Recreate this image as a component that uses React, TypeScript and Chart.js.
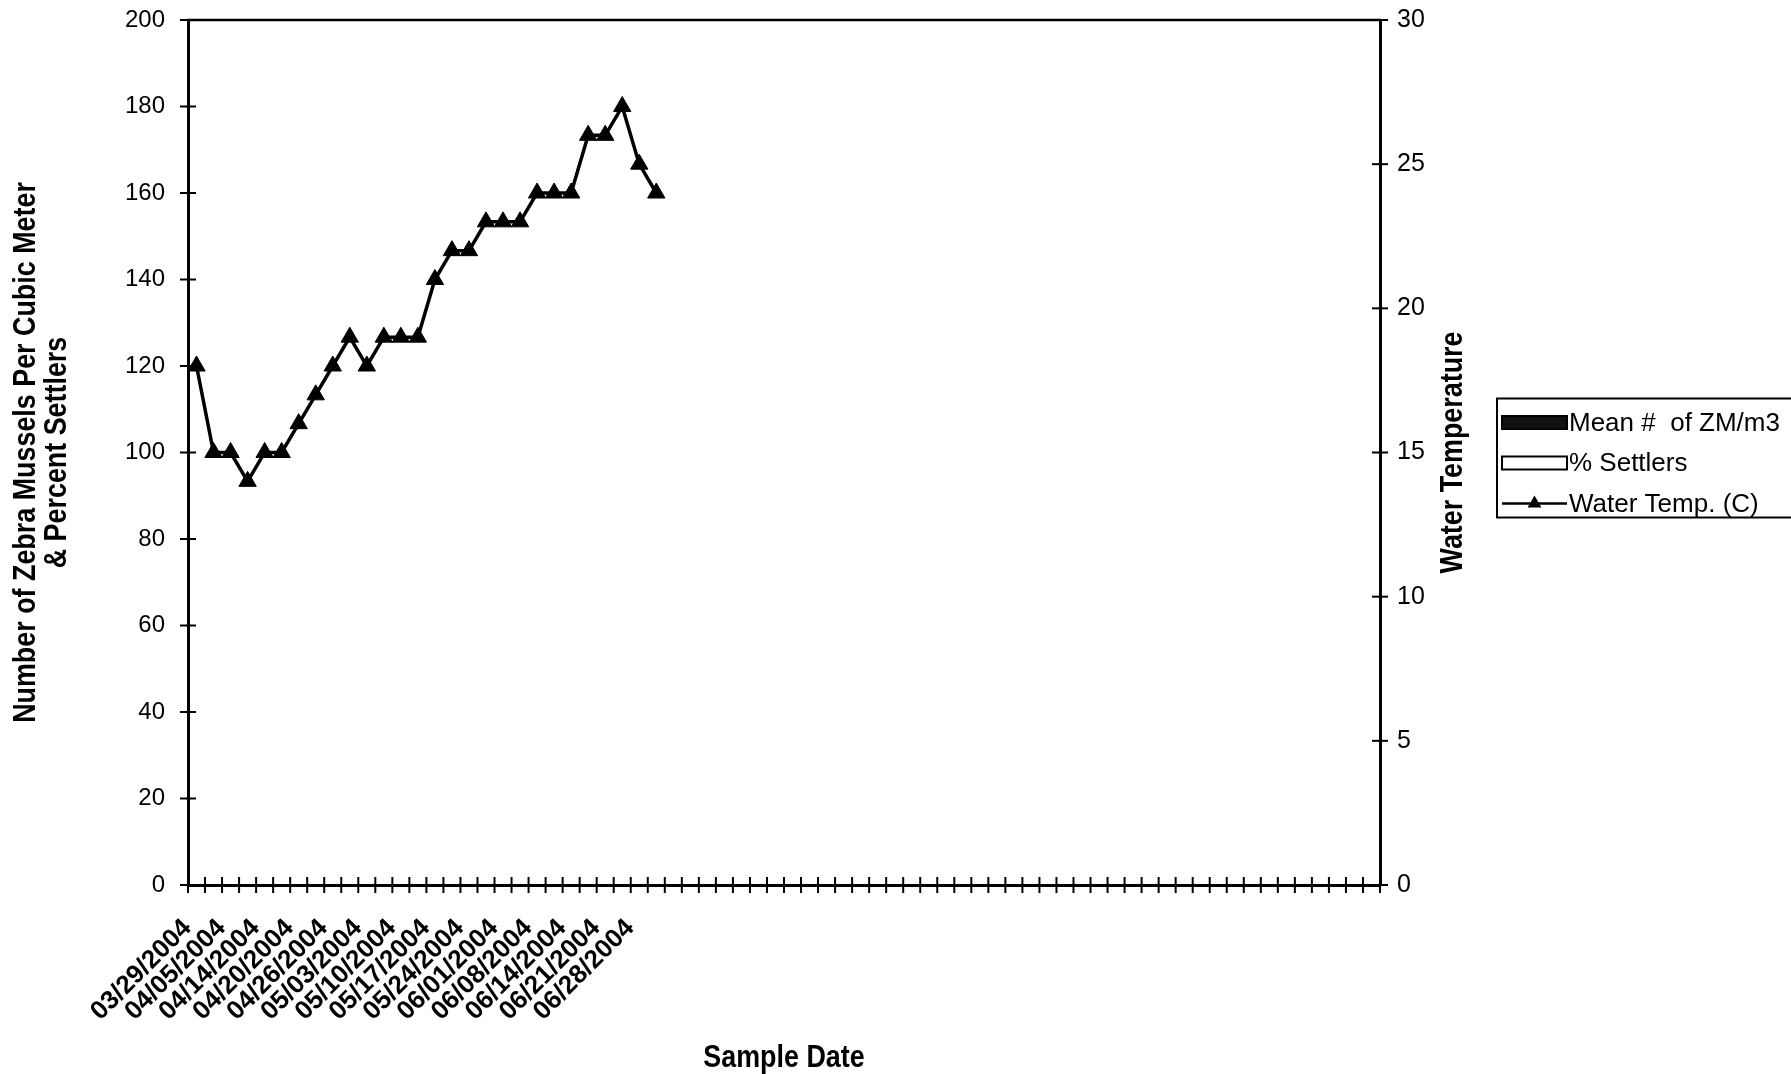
import React, { useEffect, useRef } from 'react';
import { Chart, registerables } from 'chart.js';

Chart.register(...registerables);

// Sample dates (every other one is labelled on the axis; the unlabelled ones are estimates)
const sampleDates: string[] = [
  '03/29/2004', '04/01/2004', '04/05/2004', '04/08/2004', '04/14/2004', '04/17/2004',
  '04/20/2004', '04/23/2004', '04/26/2004', '04/29/2004', '05/03/2004', '05/06/2004',
  '05/10/2004', '05/13/2004', '05/17/2004', '05/20/2004', '05/24/2004', '05/27/2004',
  '06/01/2004', '06/04/2004', '06/08/2004', '06/11/2004', '06/14/2004', '06/17/2004',
  '06/21/2004', '06/24/2004', '06/28/2004', '07/01/2004',
];
// Empty category slots that follow on the axis
const blankCategories: string[] = [
  '', '', '', '', '', '', '', '', '', '', '', '', '', '', '', '', '', '', '', '', '',
  '', '', '', '', '', '', '', '', '', '', '', '', '', '', '', '', '', '', '', '', '',
];
const categories: string[] = [...sampleDates, ...blankCategories];

// Water temperature (C), right axis
const waterTemp: number[] = [
  18, 15, 15, 14, 15, 15, 16, 17, 18, 19, 18, 19, 19, 19,
  21, 22, 22, 23, 23, 23, 24, 24, 24, 26, 26, 27, 25, 24,
];
// No bars are visible in the chart
const meanZM: (number | null)[] = [];
const pctSettlers: (number | null)[] = [];

const leftMin = 0, leftMax = 200, leftStep = 20;
const rightMin = 0, rightMax = 30, rightStep = 5;

const leftTitle: string[] = ['Number of Zebra Mussels Per Cubic Meter', '& Percent Settlers'];
const rightTitle = 'Water Temperature';
const bottomTitle = 'Sample Date';

const SANS = "'Liberation Sans', Arial, Helvetica, sans-serif";
const TITLE_FONT = `bold 32px ${SANS}`;
const CONDENSE = 0.84;

const decorPlugin = {
  id: 'decor',
  afterDraw(chart: any) {
    const { ctx, chartArea, scales } = chart;
    const { left, right, top, bottom } = chartArea;
    const midY = (top + bottom) / 2;
    const midX = (left + right) / 2;
    const L = 8;
    ctx.save();
    ctx.strokeStyle = '#000';
    const seg = (x1: number, y1: number, x2: number, y2: number) => {
      ctx.beginPath();
      ctx.moveTo(x1, y1);
      ctx.lineTo(x2, y2);
      ctx.stroke();
    };
    // top border of plot area
    ctx.lineWidth = 2.5;
    seg(left - 1, top, right + 1, top);
    ctx.lineWidth = 2;
    // crossing tick marks
    scales.y.ticks.forEach((_t: any, i: number) => {
      const py = scales.y.getPixelForTick(i);
      seg(left - L, py, left + L, py);
    });
    scales.y1.ticks.forEach((_t: any, i: number) => {
      const py = scales.y1.getPixelForTick(i);
      seg(right - L, py, right + L, py);
    });
    const n = chart.data.labels.length;
    const step = scales.x.getPixelForValue(1) - scales.x.getPixelForValue(0);
    for (let i = 0; i <= n; i++) {
      const px = i < n ? scales.x.getPixelForValue(i) - step / 2 : scales.x.getPixelForValue(n - 1) + step / 2;
      seg(px, bottom - L, px, bottom + L);
    }

    // axis titles (condensed bold)
    ctx.fillStyle = '#000';
    ctx.font = TITLE_FONT;
    ctx.textAlign = 'center';
    ctx.textBaseline = 'middle';
    const drawText = (text: string, x: number, y: number, rot: number) => {
      ctx.save();
      ctx.translate(x, y);
      ctx.rotate(rot);
      ctx.scale(CONDENSE, 1);
      ctx.fillText(text, 0, 0);
      ctx.restore();
    };
    leftTitle.forEach((t, i) => drawText(t, scales.y.left + 26 + i * 31, midY, -Math.PI / 2));
    drawText(rightTitle, scales.y1.left + 73, midY, -Math.PI / 2);
    drawText(bottomTitle, midX, scales.x.bottom - 16, 0);

    // legend box
    const lx = scales.y1.right;
    const lh = 119;
    const ly = midY - 54;
    ctx.lineWidth = 2;
    ctx.strokeStyle = '#000';
    ctx.strokeRect(lx, ly, chart.width - lx + 20, lh);
    const rows = [ly + 24, ly + 64.5, ly + 105];
    const sx = lx + 5, sw = 65, sh = 13;
    ctx.font = `26px ${SANS}`;
    ctx.textAlign = 'left';
    ctx.textBaseline = 'middle';
    chart.data.datasets.forEach((ds: any, i: number) => {
      const cy = rows[i];
      if (ds.type === 'line') {
        ctx.strokeStyle = ds.borderColor;
        ctx.lineWidth = 2.5;
        seg(sx, cy, sx + sw, cy);
        const r = 8;
        const cx = sx + sw / 2;
        ctx.fillStyle = ds.pointBackgroundColor;
        ctx.beginPath();
        ctx.moveTo(cx, cy - r);
        ctx.lineTo(cx + r * 0.866, cy + r / 2);
        ctx.lineTo(cx - r * 0.866, cy + r / 2);
        ctx.closePath();
        ctx.fill();
      } else {
        ctx.fillStyle = ds.backgroundColor;
        ctx.fillRect(sx, cy - sh / 2, sw, sh);
        ctx.strokeStyle = ds.borderColor;
        ctx.lineWidth = 2;
        ctx.strokeRect(sx, cy - sh / 2, sw, sh);
      }
      ctx.fillStyle = '#000';
      ctx.fillText(ds.label, sx + sw + 2, cy + 1);
    });
    ctx.restore();
  },
};

export default function App() {
  const canvasRef = useRef<HTMLCanvasElement | null>(null);

  useEffect(() => {
    document.body.style.margin = '0';
    const canvas = canvasRef.current;
    if (!canvas) return;
    const chart = new Chart(canvas, {
      type: 'bar',
      data: {
        labels: categories,
        datasets: [
          {
            type: 'bar',
            label: 'Mean #  of ZM/m3',
            data: meanZM,
            backgroundColor: '#111',
            borderColor: '#000',
            borderWidth: 1,
            yAxisID: 'y',
          },
          {
            type: 'bar',
            label: '% Settlers',
            data: pctSettlers,
            backgroundColor: '#fff',
            borderColor: '#000',
            borderWidth: 1,
            yAxisID: 'y',
          },
          {
            type: 'line',
            label: 'Water Temp. (C)',
            data: waterTemp,
            borderColor: '#000',
            borderWidth: 3.5,
            backgroundColor: '#000',
            pointStyle: 'triangle',
            pointRadius: 10,
            pointBackgroundColor: '#000',
            pointBorderColor: '#000',
            pointBorderWidth: 1,
            tension: 0,
            yAxisID: 'y1',
          },
        ],
      } as any,
      options: {
        animation: false,
        responsive: true,
        maintainAspectRatio: false,
        devicePixelRatio: 1,
        layout: { padding: { top: 20, right: 294, bottom: 0, left: 0 } },
        plugins: {
          legend: { display: false },
          tooltip: { enabled: false },
        },
        scales: {
          x: {
            type: 'category',
            offset: true,
            grid: { display: false, offset: true, drawTicks: false },
            border: { display: true, color: '#000', width: 3 },
            ticks: {
              autoSkip: false,
              minRotation: 45,
              maxRotation: 45,
              padding: 28,
              labelOffset: -9,
              color: '#000',
              font: { family: SANS, size: 26, weight: 'bold' },
              callback: function (this: any, value: any, index: number) {
                return index % 2 === 0 ? this.getLabelForValue(value) : '';
              },
            },
            title: { display: false },
            afterFit(scale: any) {
              scale.height = 189;
              scale.paddingLeft = 0;
              scale.paddingRight = 0;
            },
          },
          y: {
            position: 'left',
            min: leftMin,
            max: leftMax,
            grid: { display: false, drawTicks: false },
            border: { display: true, color: '#000', width: 3 },
            ticks: {
              stepSize: leftStep,
              padding: 23,
              color: '#000',
              font: { family: SANS, size: 24 },
            },
            title: { display: false },
            afterFit(scale: any) {
              scale.width = 188;
              scale.paddingTop = 0;
              scale.paddingBottom = 0;
            },
          },
          y1: {
            position: 'right',
            min: rightMin,
            max: rightMax,
            grid: { display: false, drawTicks: false },
            border: { display: true, color: '#000', width: 3 },
            ticks: {
              stepSize: rightStep,
              padding: 17,
              color: '#000',
              font: { family: SANS, size: 25 },
            },
            title: { display: false },
            afterFit(scale: any) {
              scale.width = 117;
              scale.paddingTop = 0;
              scale.paddingBottom = 0;
            },
          },
        },
      } as any,
      plugins: [decorPlugin],
    });
    return () => chart.destroy();
  }, []);

  return (
    <div style={{ width: 1791, height: 1074, position: 'relative', background: '#fff' }}>
      <canvas ref={canvasRef} style={{ width: '100%', height: '100%' }} />
    </div>
  );
}
